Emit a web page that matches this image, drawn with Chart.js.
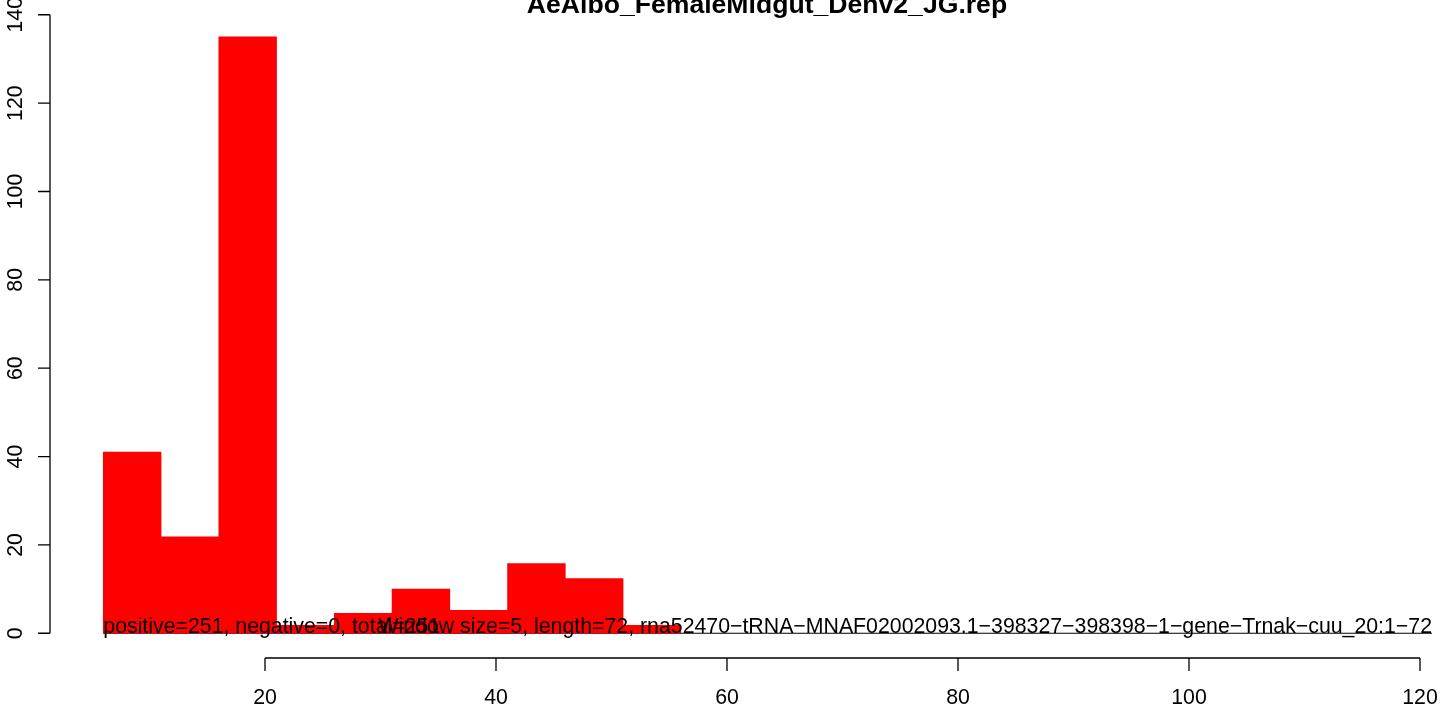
<!doctype html>
<html lang="en">
  <head>
    <meta charset="utf-8">
    <title>AeAlbo_FemaleMidgut_Denv2_JG.rep</title>
    <style>
      * { margin: 0; padding: 0; }
      body { background: white; }
      .chartBox { width: 1455px; height: 709px; }
    </style>
  </head>
  <body>
    <div class="chartBox">
      <canvas id="myChart" width="1455" height="709"></canvas>
    </div>
    <script src="https://cdn.jsdelivr.net/npm/chart.js/dist/chart.umd.min.js"></script>
    <script>
    // data
    const title = 'AeAlbo_FemaleMidgut_Denv2_JG.rep';
    const binStarts = [6, 11, 16, 21, 26, 31, 36, 41, 46, 51];
    const binWidth = 5;
    const counts = [41, 21.8, 135, 1.8, 4.5, 10, 5.2, 15.8, 12.4, 1.8];
    const xTicks = [20, 40, 60, 80, 100, 120];
    const yTicks = [0, 20, 40, 60, 80, 100, 120, 140];
    const zeroLine = [6, 121.04];   // x range of the line at y = 0
    const infoLeft = 'positive=251, negative=0, total=251';
    const infoRight = 'Window size=5, length=72, rna52470\u2212tRNA\u2212MNAF02002093.1\u2212398327\u2212398398\u22121\u2212gene\u2212Trnak\u2212cuu_20:1\u221272';

    const FONT = '"Liberation Sans", Arial, sans-serif';

    const data = {
      datasets: [{
        type: 'bar',
        data: binStarts.map((s, i) => ({ x: s + binWidth / 2, y: counts[i] })),
        backgroundColor: '#ff0000',
        borderWidth: 0,
        barPercentage: 1,
        categoryPercentage: 1,
        order: 1
      }, {
        type: 'line',
        data: zeroLine.map(v => ({ x: v, y: 0 })),
        borderColor: '#000000',
        borderWidth: 1,
        pointRadius: 0,
        order: 2
      }]
    };

    // R style axes, title and the two text lines
    const rAxes = {
      id: 'rAxes',
      afterDraw(chart) {
        const { ctx, chartArea: { top, bottom, left, right }, scales: { x, y } } = chart;
        ctx.save();
        ctx.strokeStyle = '#000';
        ctx.fillStyle = '#000';
        ctx.lineWidth = 1.3;

        // y axis
        const y0 = y.getPixelForValue(yTicks[0]);
        const y1 = y.getPixelForValue(yTicks[yTicks.length - 1]);
        ctx.beginPath();
        ctx.moveTo(left, y0);
        ctx.lineTo(left, y1);
        yTicks.forEach(v => {
          ctx.moveTo(left, y.getPixelForValue(v));
          ctx.lineTo(left - 12, y.getPixelForValue(v));
        });
        ctx.stroke();
        ctx.font = '21.3px ' + FONT;
        ctx.textAlign = 'center';
        ctx.textBaseline = 'alphabetic';
        yTicks.forEach(v => {
          ctx.save();
          ctx.translate(22, y.getPixelForValue(v));
          ctx.rotate(-Math.PI / 2);
          ctx.fillText(String(v), 0, 0);
          ctx.restore();
        });

        // x axis
        const x0 = x.getPixelForValue(xTicks[0]);
        const x1 = x.getPixelForValue(xTicks[xTicks.length - 1]);
        ctx.beginPath();
        ctx.moveTo(x0, bottom);
        ctx.lineTo(x1, bottom);
        xTicks.forEach(v => {
          ctx.moveTo(x.getPixelForValue(v), bottom);
          ctx.lineTo(x.getPixelForValue(v), bottom + 13);
        });
        ctx.stroke();
        xTicks.forEach(v => {
          ctx.fillText(String(v), x.getPixelForValue(v), 704);
        });

        // text at y = 0
        const base = y.getPixelForValue(0);
        ctx.textAlign = 'left';
        ctx.fillText(infoLeft, x.getPixelForValue(binStarts[0]), base);
        ctx.textAlign = 'right';
        ctx.fillText(infoRight, right, base);

        // title
        ctx.font = 'bold 26.6px ' + FONT;
        ctx.textAlign = 'center';
        ctx.fillText(title, 767, 13);
        ctx.restore();
      }
    };

    const config = {
      data,
      options: {
        responsive: false,
        animation: false,
        layout: {
          padding: { left: 50, right: 23, top: 13, bottom: 51 }
        },
        scales: {
          x: {
            type: 'linear',
            display: false,
            offset: false,
            min: 1.385,
            max: 121.04,
            afterBuildTicks: s => { s.ticks = xTicks.map(v => ({ value: v })); }
          },
          y: {
            display: false,
            min: -5.6,
            max: 140.4,
            afterBuildTicks: s => { s.ticks = yTicks.map(v => ({ value: v })); }
          }
        },
        plugins: {
          legend: { display: false },
          tooltip: { enabled: false }
        }
      },
      plugins: [rAxes]
    };

    const myChart = new Chart(document.getElementById('myChart'), config);
    </script>
  </body>
</html>
